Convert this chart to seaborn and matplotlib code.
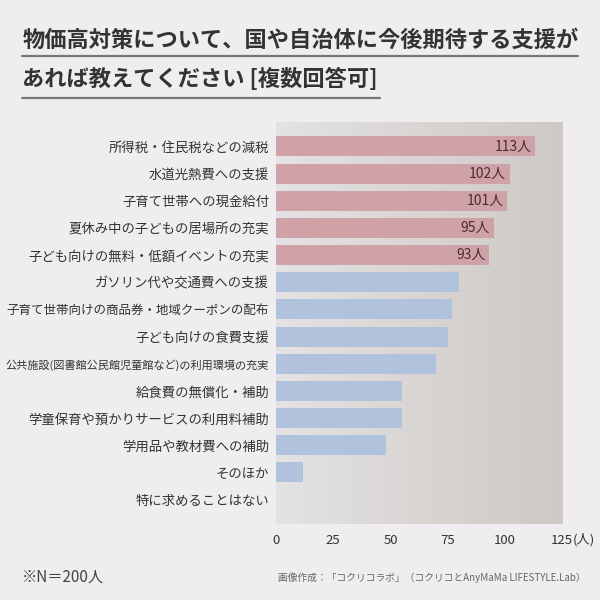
import numpy as np
import pandas as pd
import seaborn as sns
import matplotlib.pyplot as plt
from matplotlib.lines import Line2D

# data
items = [
    '所得税・住民税などの減税',
    '水道光熱費への支援',
    '子育て世帯への現金給付',
    '夏休み中の子どもの居場所の充実',
    '子ども向けの無料・低額イベントの充実',
    'ガソリン代や交通費への支援',
    '子育て世帯向けの商品券・地域クーポンの配布',
    '子ども向けの食費支援',
    '公共施設(図書館公民館児童館など)の利用環境の充実',
    '給食費の無償化・補助',
    '学童保育や預かりサービスの利用料補助',
    '学用品や教材費への補助',
    'そのほか',
    '特に求めることはない',
]
counts = [113, 102, 101, 95, 93, 80, 77, 75, 70, 55, 55, 48, 12, 0]
top_n = 5
x_ticks = [0, 25, 50, 75, 100, 125]

df = pd.DataFrame({'item': items, 'count': counts})
df['group'] = ['top' if i < top_n else 'rest' for i in range(len(items))]

sns.set_theme(style='white')
plt.rcParams['font.family'] = ['Noto Sans CJK JP', 'DejaVu Sans']

fig = plt.figure(figsize=(6, 6), dpi=100, facecolor='#efedf0')
ax = fig.add_axes([0.46, 0.1267, 0.477, 0.67])

# gradient panel behind the bars
grad = np.linspace(0, 1, 256).reshape(1, -1)
cmap = sns.blend_palette(['#e4e2e4', '#d8d5d3', '#cdc9c6'], as_cmap=True)
ax.imshow(grad, cmap=cmap, aspect='auto', extent=[0, 1, 0, 1],
          transform=ax.transAxes, zorder=0)

sns.barplot(data=df, y='item', x='count', hue='group', orient='h',
            palette={'top': '#d69aa2', 'rest': '#aac0e3'}, dodge=False,
            width=0.74, legend=False, linewidth=0, ax=ax, zorder=2)

for i, (v, g) in enumerate(zip(counts, df['group'])):
    if g == 'top':
        ax.text(v - 1.5, i, f'{v}人', ha='right', va='center',
                fontsize=10, color='#4d2b30', zorder=3)

ax.set_xlim(0, 125)
ax.set_ylim(len(items) - 0.1, -0.9)
ax.set_xticks(x_ticks)
ax.set_xticklabels([str(t) for t in x_ticks], fontsize=9.5, color='#333333')
ax.tick_params(axis='x', length=0, pad=7)
ax.tick_params(axis='y', length=0, pad=5, labelsize=9.6, labelcolor='#333333')
# unit next to the last tick, on the same baseline as the tick labels
last = ax.get_xticklabels()[-1]
ax.annotate('(人)', xy=(1.0, 0), xycoords=last, xytext=(0, 0),
            textcoords='offset points', ha='left', va='bottom',
            fontsize=9.5, color='#333333')
for lab in ax.get_yticklabels():
    if lab.get_text().startswith('公共施設'):
        lab.set_fontsize(8.0)
    elif lab.get_text().startswith('子育て世帯向け'):
        lab.set_fontsize(9.0)
ax.set_xlabel('')
ax.set_ylabel('')
for s in ax.spines.values():
    s.set_visible(False)

# title with underlines
fig.text(0.037, 0.933, '物価高対策について、国や自治体に今後期待する支援が',
         fontsize=16, fontweight='bold', color='#333333', va='center')
fig.text(0.037, 0.868, 'あれば教えてください [複数回答可]',
         fontsize=16, fontweight='bold', color='#333333', va='center')
fig.add_artist(Line2D([0.037, 0.963], [0.906, 0.906], color='#777777', lw=1.6))
fig.add_artist(Line2D([0.037, 0.633], [0.837, 0.837], color='#777777', lw=1.6))

fig.text(0.037, 0.038, '※N＝200人', fontsize=11, color='#444444', va='center')
fig.text(0.463, 0.038, '画像作成：「コクリコラボ」（コクリコとAnyMaMa LIFESTYLE.Lab）',
         fontsize=7.0, color='#666666', va='center')

fig.savefig('out.png', dpi=100, facecolor=fig.get_facecolor())
